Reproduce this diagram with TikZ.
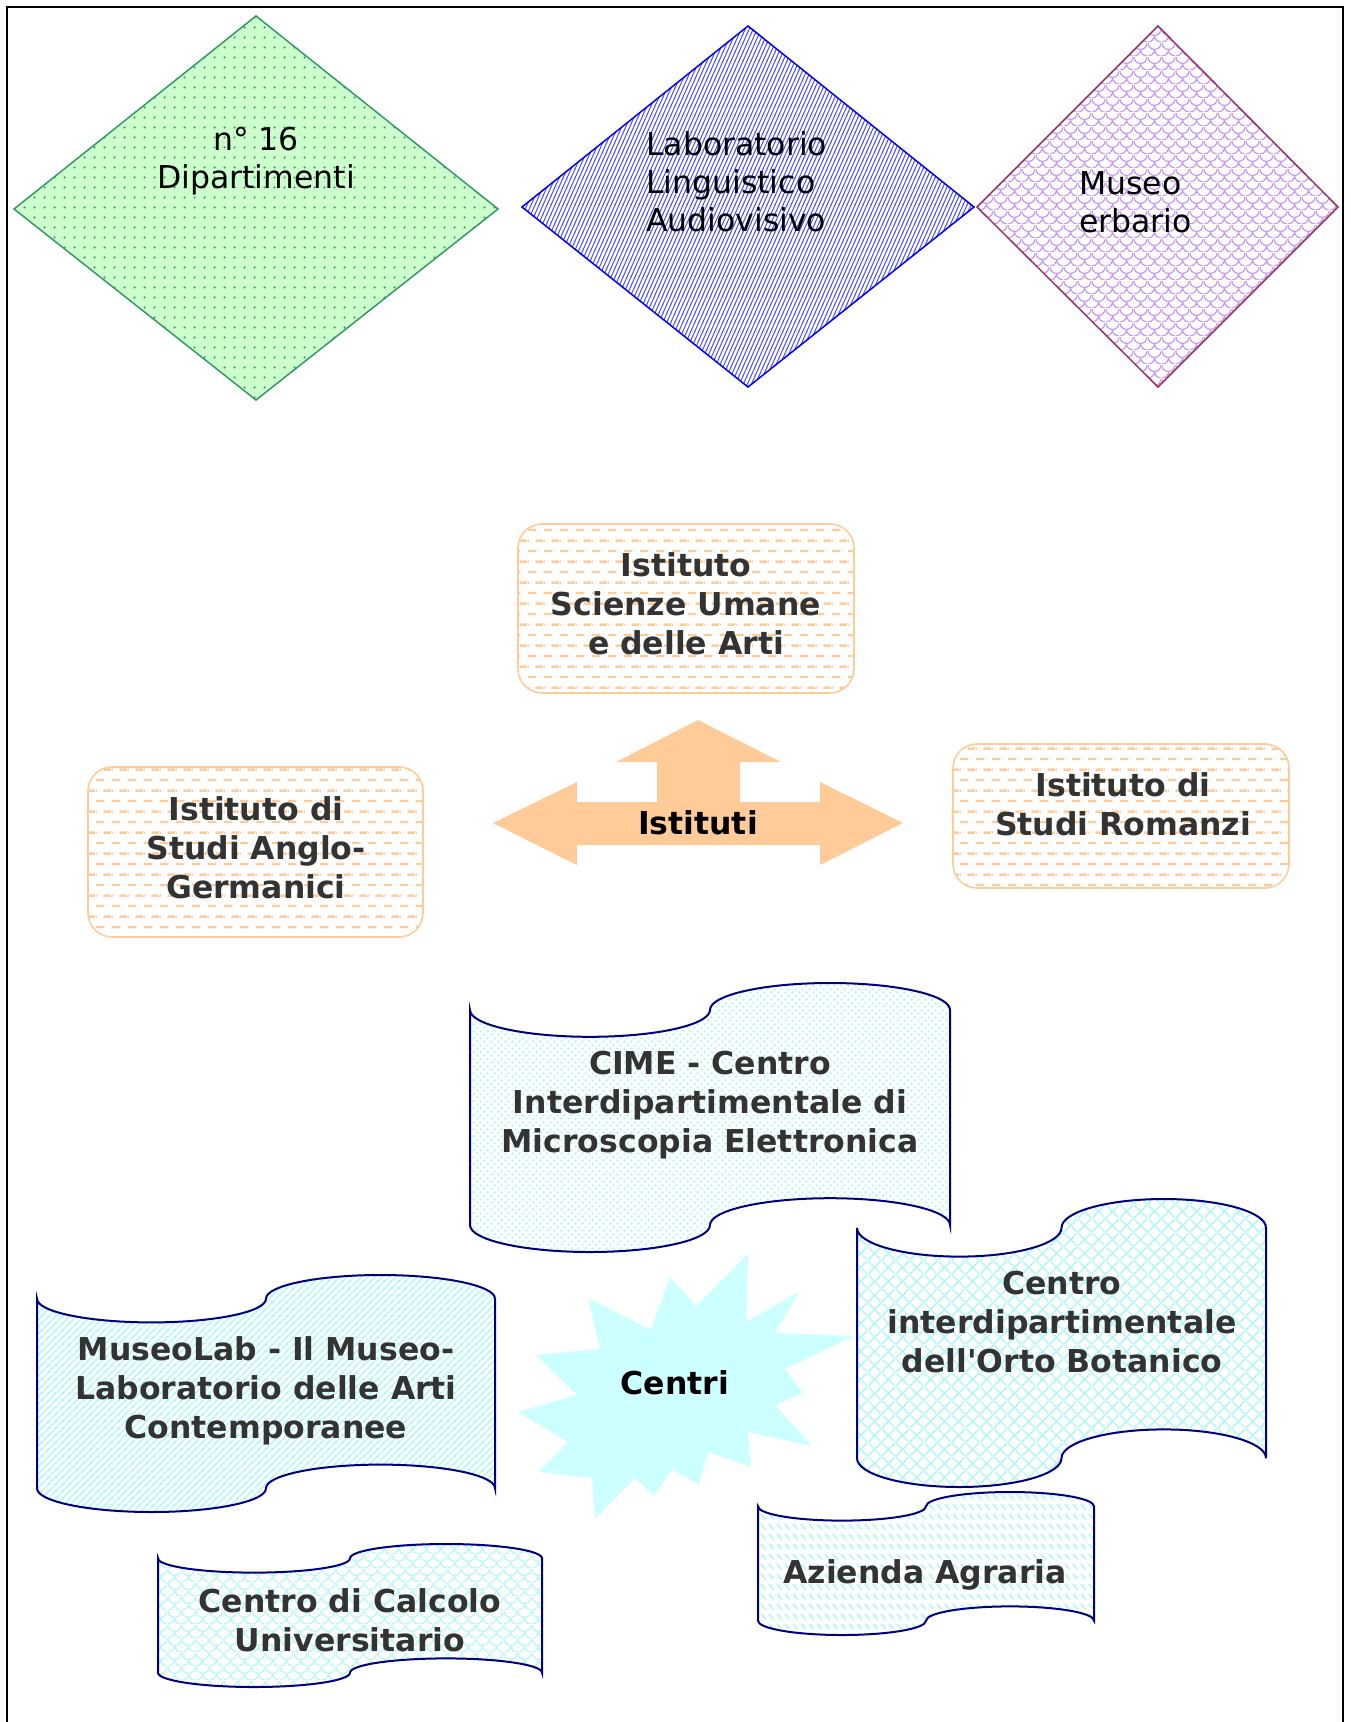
\documentclass[tikz,border=0pt]{standalone}
\usepackage{fontspec}
\setmainfont{DejaVu Sans}[Ligatures=TeXOff]
\usetikzlibrary{patterns}

\definecolor{deptgreen}{HTML}{339966}
\definecolor{deptfill}{HTML}{CCFFCC}
\definecolor{labblue}{HTML}{0000FF}
\definecolor{labstripe}{HTML}{5050F0}
\definecolor{museumline}{HTML}{993366}
\definecolor{museumpat}{HTML}{C497F8}
\definecolor{instorange}{HTML}{FFCC99}
\definecolor{centrecyan}{HTML}{CCFFFF}
\definecolor{tapecyan}{HTML}{B4F7F7}
\definecolor{tapenavy}{HTML}{000080}
\definecolor{darktext}{HTML}{333333}

% fill patterns (tile sizes in pt)
\pgfdeclarepatternformonly{deptdots}{\pgfpointorigin}{\pgfpoint{10pt}{10pt}}{\pgfpoint{10pt}{10pt}}{
  \pgfpathcircle{\pgfpoint{5pt}{5pt}}{1.3pt}
  \pgfusepath{fill}}
\pgfdeclarepatternformonly{labstripes}{\pgfpointorigin}{\pgfpoint{4.4pt}{8.8pt}}{\pgfpoint{4.4pt}{8.8pt}}{
  \pgfsetlinewidth{1.1pt}
  \pgfpathmoveto{\pgfpoint{-1.1pt}{-2.2pt}}\pgfpathlineto{\pgfpoint{5.5pt}{11pt}}
  \pgfpathmoveto{\pgfpoint{-5.5pt}{-2.2pt}}\pgfpathlineto{\pgfpoint{1.1pt}{11pt}}
  \pgfpathmoveto{\pgfpoint{3.3pt}{-2.2pt}}\pgfpathlineto{\pgfpoint{9.9pt}{11pt}}
  \pgfusepath{stroke}}
\pgfdeclarepatternformonly{scales}{\pgfpointorigin}{\pgfpoint{14pt}{14pt}}{\pgfpoint{14pt}{14pt}}{
  \pgfsetlinewidth{1.3pt}
  \pgfpathmoveto{\pgfpoint{0pt}{14pt}}\pgfpatharc{180}{360}{7pt}
  \pgfpathmoveto{\pgfpoint{0pt}{0pt}}\pgfpatharc{270}{360}{7pt}
  \pgfpathmoveto{\pgfpoint{7pt}{7pt}}\pgfpatharc{180}{270}{7pt}
  \pgfusepath{stroke}}
\pgfdeclarepatternformonly{dashrows}{\pgfpointorigin}{\pgfpoint{16pt}{20.8pt}}{\pgfpoint{16pt}{20.8pt}}{
  \pgfsetlinewidth{2.4pt}
  \pgfpathmoveto{\pgfpoint{0pt}{5pt}}\pgfpathlineto{\pgfpoint{9pt}{5pt}}
  \pgfpathmoveto{\pgfpoint{8pt}{15.4pt}}\pgfpathlineto{\pgfpoint{16pt}{15.4pt}}
  \pgfpathmoveto{\pgfpoint{0pt}{15.4pt}}\pgfpathlineto{\pgfpoint{1pt}{15.4pt}}
  \pgfusepath{stroke}}
\pgfdeclarepatternformonly{smalldots}{\pgfpointorigin}{\pgfpoint{7pt}{7pt}}{\pgfpoint{7pt}{7pt}}{
  \pgfpathcircle{\pgfpoint{1.75pt}{1.75pt}}{1.6pt}
  \pgfpathcircle{\pgfpoint{5.25pt}{5.25pt}}{1.6pt}
  \pgfusepath{fill}}
\pgfdeclarepatternformonly{diagcross}{\pgfpointorigin}{\pgfpoint{14pt}{14pt}}{\pgfpoint{14pt}{14pt}}{
  \pgfsetlinewidth{1.6pt}
  \pgfpathmoveto{\pgfpoint{0pt}{0pt}}\pgfpathlineto{\pgfpoint{14pt}{14pt}}
  \pgfpathmoveto{\pgfpoint{0pt}{14pt}}\pgfpathlineto{\pgfpoint{14pt}{0pt}}
  \pgfusepath{stroke}}
\pgfdeclarepatternformonly{updiag}{\pgfpointorigin}{\pgfpoint{7pt}{7pt}}{\pgfpoint{7pt}{7pt}}{
  \pgfsetlinewidth{1.6pt}
  \pgfpathmoveto{\pgfpoint{-1pt}{-1pt}}\pgfpathlineto{\pgfpoint{8pt}{8pt}}
  \pgfpathmoveto{\pgfpoint{-1pt}{6pt}}\pgfpathlineto{\pgfpoint{1pt}{8pt}}
  \pgfpathmoveto{\pgfpoint{6pt}{-1pt}}\pgfpathlineto{\pgfpoint{8pt}{1pt}}
  \pgfusepath{stroke}}
\pgfdeclarepatternformonly{dndashes}{\pgfpointorigin}{\pgfpoint{8pt}{10pt}}{\pgfpoint{8pt}{10pt}}{
  \pgfsetlinewidth{1.8pt}
  \pgfpathmoveto{\pgfpoint{1pt}{8.5pt}}\pgfpathlineto{\pgfpoint{6.5pt}{3pt}}
  \pgfusepath{stroke}}

% wavy banner: #1 style, (#2,#3) top left and (#4,#5) bottom right of its box
\newcommand{\punchtape}[5]{%
  \pgfmathsetmacro{\tapeq}{(#4-#2)/4}%
  \pgfmathsetmacro{\tapea}{(#5-#3)/10}%
  \draw[tape,#1] (#2,#3+\tapea)
    arc[start angle=180, end angle=0, x radius=\tapeq, y radius=\tapea]
    arc[start angle=180, end angle=360, x radius=\tapeq, y radius=\tapea]
    -- (#4,#5-\tapea)
    arc[start angle=0, end angle=-180, x radius=\tapeq, y radius=\tapea]
    arc[start angle=0, end angle=180, x radius=\tapeq, y radius=\tapea]
    -- cycle;}

\begin{document}
\begin{tikzpicture}[x=1pt, y=-1pt,
  every node/.style={font=\fontsize{31.5}{38}\selectfont, inner sep=0pt},
  plaintext/.style={text=black},
  boldtext/.style={text=darktext, font=\fontsize{31.5}{39}\selectfont\bfseries, align=center},
  instbox/.style={draw=instorange, line width=1.6pt, rounded corners=24pt,
    pattern=dashrows, pattern color=instorange},
  tape/.style={draw=tapenavy, line width=2pt, pattern color=tapecyan}]
  \useasboundingbox (0,0) rectangle (1350,1722);

  % Frame
  \draw[line width=2pt] (7,1730) -- (7,7) -- (1343,7) -- (1343,1730);

  % Departments and the two top services
  \draw[deptgreen, line width=1.5pt, preaction={fill=deptfill},
    pattern=deptdots, pattern color=deptgreen]
    (256,16) -- (498,209) -- (256,400) -- (14,209) -- cycle;
  \node[plaintext, align=center] (dept) at (256,161) {n° 16\\Dipartimenti};

  \draw[labblue, line width=1.5pt, pattern=labstripes, pattern color=labstripe]
    (748,26) -- (974,207) -- (748,387) -- (522,207) -- cycle;
  \node[plaintext, align=left, anchor=west] (lab) at (646,182)
    {Laboratorio\\Linguistico\\Audiovisivo};

  \draw[museumline, line width=1.5pt, pattern=scales, pattern color=museumpat]
    (1158,26) -- (1338,207) -- (1158,387) -- (977,207) -- cycle;
  \node[plaintext, align=left, anchor=west] (museum) at (1079,202) {Museo\\erbario};

  % Istituti
  \draw[instbox] (518,524) rectangle (854,693);
  \node[boldtext] (isua) at (686,604) {Istituto\\Scienze Umane\\e delle Arti};

  \draw[instbox] (88,767) rectangle (423,937);
  \node[boldtext] (isag) at (256,848) {Istituto di\\Studi Anglo-\\Germanici};

  \draw[instbox] (953,744) rectangle (1289,888);
  \node[boldtext] (isr) at (1123,804) {Istituto di\\Studi Romanzi};

  \fill[instorange] (493,823) -- (577,782) -- (577,802) -- (657,802) -- (657,762)
    -- (616,762) -- (698,720) -- (781,762) -- (740,762) -- (740,802) -- (820,802)
    -- (820,782) -- (903,823) -- (820,865) -- (820,845) -- (577,845) -- (577,865) -- cycle;
  \node[font=\fontsize{31.5}{38}\selectfont\bfseries] (istituti) at (698,823) {Istituti};

  % Centri
  \punchtape{pattern=smalldots}{470}{983}{950}{1252}
  \node[boldtext] (cime) at (710,1105)
    {CIME - Centro\\Interdipartimentale di\\Microscopia Elettronica};

  \punchtape{pattern=diagcross}{857}{1199}{1266}{1487}
  \node[boldtext] (orto) at (1062,1322)
    {Centro\\interdipartimentale\\dell'Orto Botanico};

  \punchtape{pattern=updiag}{37}{1275}{495}{1512}
  \node[boldtext] (museolab) at (266,1391)
    {MuseoLab - Il Museo-\\Laboratorio delle Arti\\Contemporanee};

  \punchtape{pattern=dndashes}{758}{1492}{1094}{1635}
  \node[boldtext] (agraria) at (925,1575) {Azienda Agraria};

  \punchtape{pattern=scales}{158}{1544}{542}{1687}
  \node[boldtext] (calcolo) at (350,1620) {Centro di Calcolo\\Universitario};

  \fill[centrecyan] (748,1254) -- (746,1322) -- (799,1292) -- (775,1333) -- (854,1336)
    -- (785,1369) -- (803,1393) -- (775,1405) -- (812,1446) -- (748,1432)
    -- (751,1467) -- (708,1452) -- (699,1485) -- (672,1469) -- (654,1496)
    -- (635,1478) -- (595,1519) -- (592,1478) -- (538,1472) -- (568,1442)
    -- (518,1412) -- (577,1395) -- (536,1355) -- (600,1349) -- (588,1298)
    -- (651,1330) -- (670,1277) -- (696,1306) -- cycle;
  \node[font=\fontsize{31.5}{38}\selectfont\bfseries] (centri) at (675,1383) {Centri};
\end{tikzpicture}
\end{document}
